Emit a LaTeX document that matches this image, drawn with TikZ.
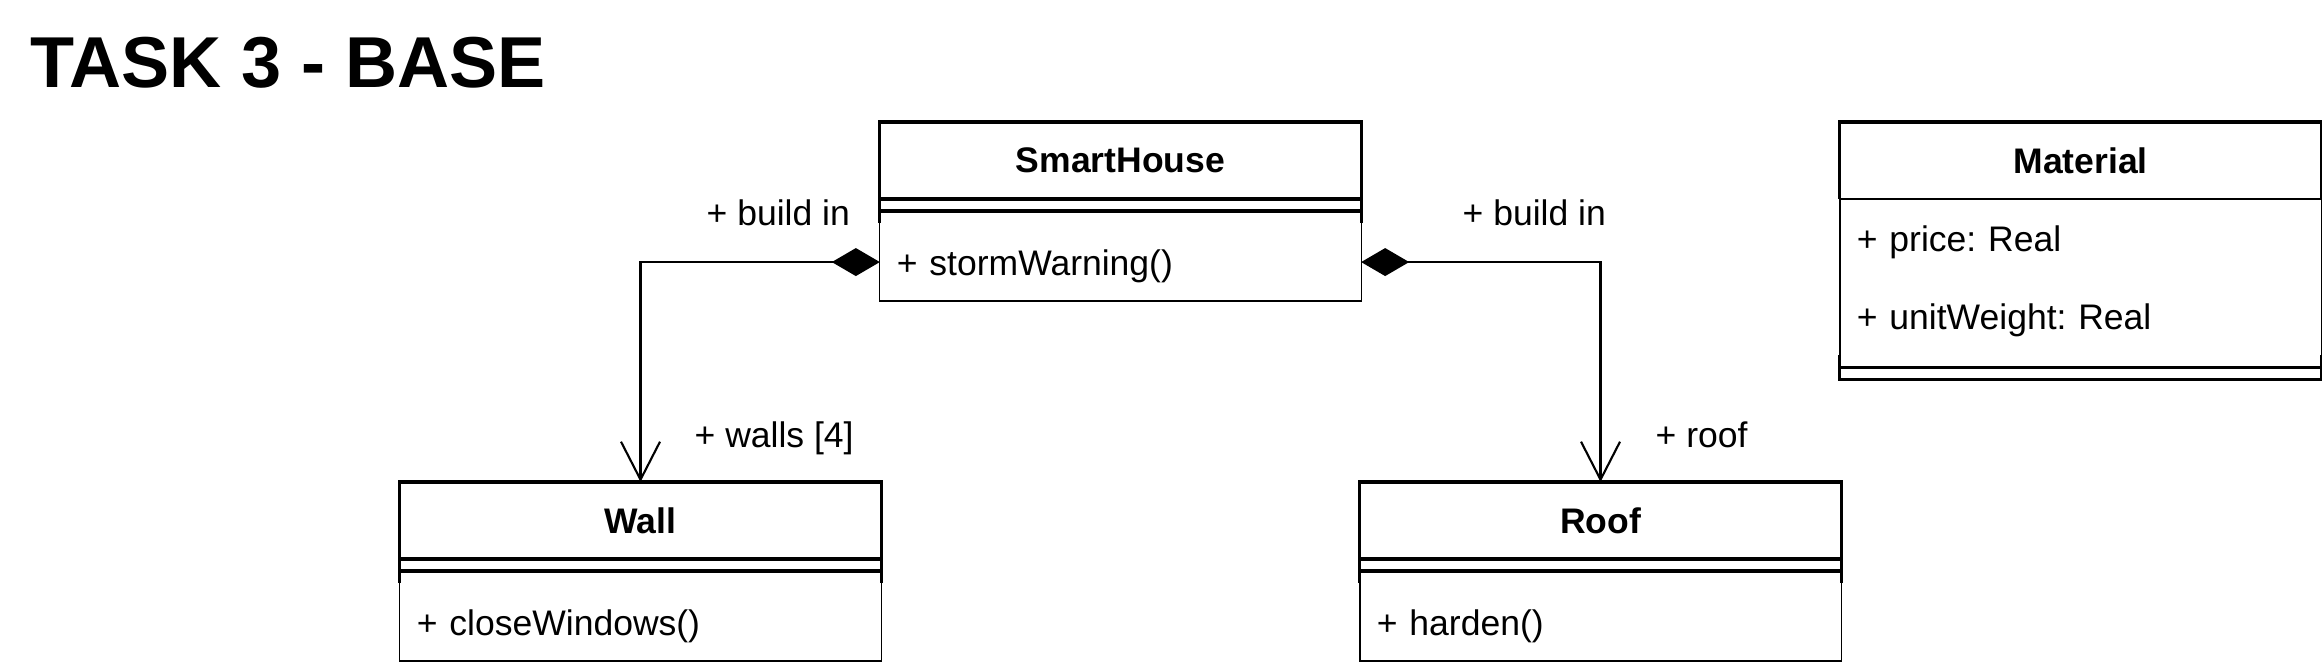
\documentclass[tikz,border=0pt]{standalone}
\usepackage{fontspec}
\setmainfont{Liberation Sans}
\usetikzlibrary{arrows.meta,positioning}
\frenchspacing
\newcommand{\umlfont}{\fontsize{10.1}{12}\selectfont}
\tikzset{
  classline/.style={line width=0.9pt},
  thinline/.style={line width=0.35pt},
  hdr/.style={draw,classline,minimum width=4.81cm,minimum height=0.77cm,
              inner sep=0pt,outer sep=0pt,font=\umlfont\bfseries},
  gapbox/.style={minimum width=4.81cm,minimum height=0.24cm,
                 inner sep=0pt,outer sep=0pt},
  rowbox/.style={fill=white,minimum width=4.81cm,minimum height=0.78cm,
                 text width=4.47cm,text height=0.28cm,text depth=0.02cm,
                 inner xsep=0.17cm,inner ysep=0pt,
                 outer sep=0pt,align=left,font=\umlfont},
  lbl/.style={anchor=base west,inner sep=0pt,font=\umlfont},
  compose/.style={line width=0.6pt,
                  {Diamond[length=0.48cm,width=0.28cm]}-{Straight Barb[length=0.38cm,width=0.39cm]}}
}
\begin{document}
\begin{tikzpicture}[x=0.01cm,y=-0.01cm]
  \useasboundingbox (0,0) rectangle (2322,669);
  \node[anchor=base west,inner sep=0pt,font=\fontsize{20.5}{24}\selectfont\bfseries] (title) at (30,87) {TASK 3 - BASE};
  % classes
  \node[hdr] (house) at (1120.5,160.5) {SmartHouse};
  \node[gapbox,below=0pt of house] (housegap) {};
  \node[rowbox,below=0pt of housegap] (houseops) {+ stormWarning()};
  \node[hdr] (wall) at (640.5,520.5) {Wall};
  \node[gapbox,below=0pt of wall] (wallgap) {};
  \node[rowbox,below=0pt of wallgap] (wallops) {+ closeWindows()};
  \node[hdr] (roof) at (1600.5,520.5) {Roof};
  \node[gapbox,below=0pt of roof] (roofgap) {};
  \node[rowbox,below=0pt of roofgap] (roofops) {+ harden()};
  \foreach \c in {house,wall,roof}{
    \draw[classline] (\c gap.north west) -- (\c gap.south west)
                     (\c gap.north east) -- (\c gap.south east)
                     (\c gap.west) -- (\c gap.east);
    \draw[thinline] (\c ops.north west) |- (\c ops.south east) -- (\c ops.north east);
  }
  % material
  \node[hdr,draw=none] (mat) at (2080.5,160.5) {Material};
  \node[rowbox,below=0pt of mat] (price) {+ price: Real};
  \node[rowbox,below=0pt of price] (weight) {+ unitWeight: Real};
  \node[gapbox,below=0pt of weight] (matgap) {};
  \draw[classline] (mat.south west) |- (mat.north east) -- (mat.south east);
  \draw[thinline] (weight.south west) |- (price.north east) -- (weight.south east);
  \draw[classline] (matgap.north west) |- (matgap.south east) -- (matgap.north east);
  \draw[classline] (matgap.west) -- (matgap.east);
  % compositions
  \draw[compose] (houseops.west) -| (wall.north);
  \draw[compose] (houseops.east) -| (roof.north);
  \node[lbl] (inleft) at (706,225) {+ build in};
  \node[lbl] (inright) at (1462,225) {+ build in};
  \node[lbl] (walls) at (694,447) {+ walls [4]};
  \node[lbl] (roofend) at (1655,447) {+ roof};
\end{tikzpicture}
\end{document}
